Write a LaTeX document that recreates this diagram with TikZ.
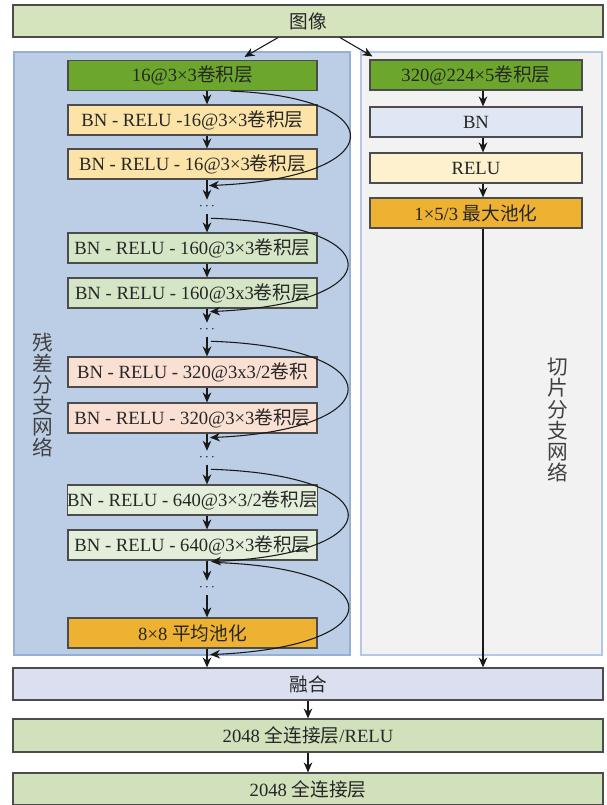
\documentclass[tikz,border=0pt]{standalone}
\usepackage{fontspec}
\setmainfont{Liberation Serif}
\newfontfamily\cjk{Noto Sans CJK SC}
\usetikzlibrary{arrows.meta,calc}
\newcommand\zh[1]{{\cjk #1}}
\def\px{0.75pt}
\definecolor{imgGreen}{RGB}{214,228,190}
\definecolor{fcGreen}{RGB}{208,225,188}
\definecolor{fuseBlue}{RGB}{220,223,240}
\definecolor{lpFill}{RGB}{188,206,230}
\definecolor{lpDraw}{RGB}{150,175,210}
\definecolor{rpFill}{RGB}{242,242,242}
\definecolor{rpDraw}{RGB}{180,199,228}
\definecolor{dkGreen}{RGB}{108,166,44}
\definecolor{yel}{RGB}{252,228,168}
\definecolor{lGreen}{RGB}{213,230,198}
\definecolor{pink}{RGB}{250,224,211}
\definecolor{vlGreen}{RGB}{227,239,218}
\definecolor{orng}{RGB}{237,178,49}
\definecolor{bnBlue}{RGB}{222,231,243}
\definecolor{reluYel}{RGB}{253,242,205}
\begin{document}
\begin{tikzpicture}[x=0.75pt,y=-0.75pt,
  blk/.style={draw=black!70, line width=0.9pt, inner sep=0pt, minimum height=30*\px,
    font=\fontsize{14}{16}\selectfont, text=black!85},
  lbox/.style={blk, minimum width=249*\px},
  rbox/.style={blk, minimum width=212*\px},
  wbox/.style={blk, minimum width=590*\px, minimum height=32*\px},
  arr/.style={-{Stealth[length=7.5pt,width=6.5pt]}, line width=0.8pt, draw=black!90},
  dots/.style={inner sep=0pt, minimum height=14*\px, font=\normalsize},
  vlabel/.style={align=center, font=\cjk\fontsize{15.5}{15.8}\selectfont, text=black!75}]
\useasboundingbox (0,0) rectangle (606,805);
\fill[white] (0,0) rectangle (606,805);
% panels
\node[draw=lpDraw, fill=lpFill, line width=0.8pt, minimum width=336*\px, minimum height=603*\px, inner sep=0pt] (lp) at (182,353.5) {};
\node[draw=rpDraw, fill=rpFill, line width=0.8pt, minimum width=241*\px, minimum height=603*\px, inner sep=0pt] (rp) at (481.5,353.5) {};
\node[vlabel] (lpl) at (43,395) {残\\差\\分\\支\\网\\络};
\node[vlabel] (rpl) at (558,420) {切\\片\\分\\支\\网\\络};
% top
\node[wbox, fill=imgGreen] (img) at (308,21) {\zh{图像}};
% left column
\node[lbox, fill=dkGreen] (n1) at (192.5,75.5) {16@3×3\zh{卷积层}};
\node[lbox, fill=yel] (n2) at (192.5,120) {BN - RELU -16@3×3\zh{卷积层}};
\node[lbox, fill=yel] (n3) at (192.5,164) {BN - RELU - 16@3×3\zh{卷积层}};
\node[dots] (d1) at (207,207) {$\cdots$};
\node[lbox, fill=lGreen] (n4) at (192.5,248) {BN - RELU - 160@3×3\zh{卷积层}};
\node[lbox, fill=lGreen] (n5) at (192.5,293) {BN - RELU - 160@3x3\zh{卷积层}};
\node[dots] (d2) at (207,330) {$\cdots$};
\node[lbox, fill=pink] (n6) at (192.5,372) {BN - RELU - 320@3x3/2\zh{卷积}};
\node[lbox, fill=pink] (n7) at (192.5,418) {BN - RELU - 320@3×3\zh{卷积层}};
\node[dots] (d3) at (207,458) {$\cdots$};
\node[lbox, fill=vlGreen] (n8) at (192.5,500) {BN - RELU - 640@3×3/2\zh{卷积层}};
\node[lbox, fill=vlGreen] (n9) at (192.5,545) {BN - RELU - 640@3×3\zh{卷积层}};
\node[dots] (d4) at (207,588) {$\cdots$};
\node[lbox, fill=orng] (n10) at (192.5,633) {8×8 \zh{平均池化}};
% right column
\node[rbox, fill=dkGreen] (r1) at (476,75) {320@224×5\zh{卷积层}};
\node[rbox, fill=bnBlue] (r2) at (476,122) {BN};
\node[rbox, fill=reluYel] (r3) at (476,168) {RELU};
\node[rbox, fill=orng] (r4) at (476,213) {1×5/3 \zh{最大池化}};
% bottom
\node[wbox, fill=fuseBlue] (fus) at (308,684) {\zh{融合}};
\node[wbox, fill=fcGreen, minimum height=33*\px] (fc1) at (308,735.5) {2048 \zh{全连接层}/RELU};
\node[wbox, fill=fcGreen] (fc2) at (308,789) {2048 \zh{全连接层}};
% axes
\coordinate (ax) at (207,0);
\coordinate (rx) at (483,0);
\coordinate (cx) at (393,0);
% top arrows
\draw[arr] ($(img.south)+(-30,0)$) -- ($(n1.north)+(52,-3)$);
\draw[arr] ($(img.south)+(32,0)$) -- ($(r1.north west)+(3,-3)$);
% left vertical arrows
\draw[arr] (n1.south -| ax) -- (n2.north -| ax);
\draw[arr] (n2.south -| ax) -- (n3.north -| ax);
\draw[arr] (n3.south -| ax) -- (d1.north);
\draw[arr] (d1.south) -- (n4.north -| ax);
\draw[arr] (n4.south -| ax) -- (n5.north -| ax);
\draw[arr] (n5.south -| ax) -- (d2.north);
\draw[arr] (d2.south) -- (n6.north -| ax);
\draw[arr] (n6.south -| ax) -- (n7.north -| ax);
\draw[arr] (n7.south -| ax) -- (d3.north);
\draw[arr] (d3.south) -- (n8.north -| ax);
\draw[arr] (n8.south -| ax) -- (n9.north -| ax);
\draw[arr] (n9.south -| ax) -- (d4.north);
\draw[arr] (d4.south) -- (n10.north -| ax);
\draw[arr] (n10.south -| ax) -- (fus.north -| ax);
% right vertical arrows
\draw[arr] (r1.south -| rx) -- (r2.north -| rx);
\draw[arr] (r2.south -| rx) -- (r3.north -| rx);
\draw[arr] (r3.south -| rx) -- (r4.north -| rx);
\draw[arr] (r4.south -| rx) -- (fus.north -| rx);
% bottom arrows
\draw[arr] (fus.south) -- (fc1.north);
\draw[arr] (fc1.south) -- (fc2.north);
% skip connections
\coordinate (s1) at ($(n1.south)+(38,0)$);
\coordinate (e1) at ($(n3.south -| ax)+(2,6)$);
\coordinate (s2) at ($(d1.south)+(4,4)$);
\coordinate (e2) at ($(n5.south -| ax)+(3,3)$);
\coordinate (s3) at ($(d2.south)+(4,4)$);
\coordinate (e3) at ($(n7.south -| ax)+(3,4)$);
\coordinate (s4) at ($(d3.south)+(4,4)$);
\coordinate (e4) at ($(n9.south -| ax)+(4,1)$);
\coordinate (s5) at ($(n9.south -| ax)+(10,2)$);
\coordinate (e5) at ($(n10.south -| ax)+(3,6)$);
\foreach \i in {1,...,5}{
  \draw[arr] (s\i) .. controls ($(s\i -| cx)+(0,6)$) and ($(e\i -| cx)+(0,-8)$) .. (e\i);
}
\end{tikzpicture}
\end{document}
